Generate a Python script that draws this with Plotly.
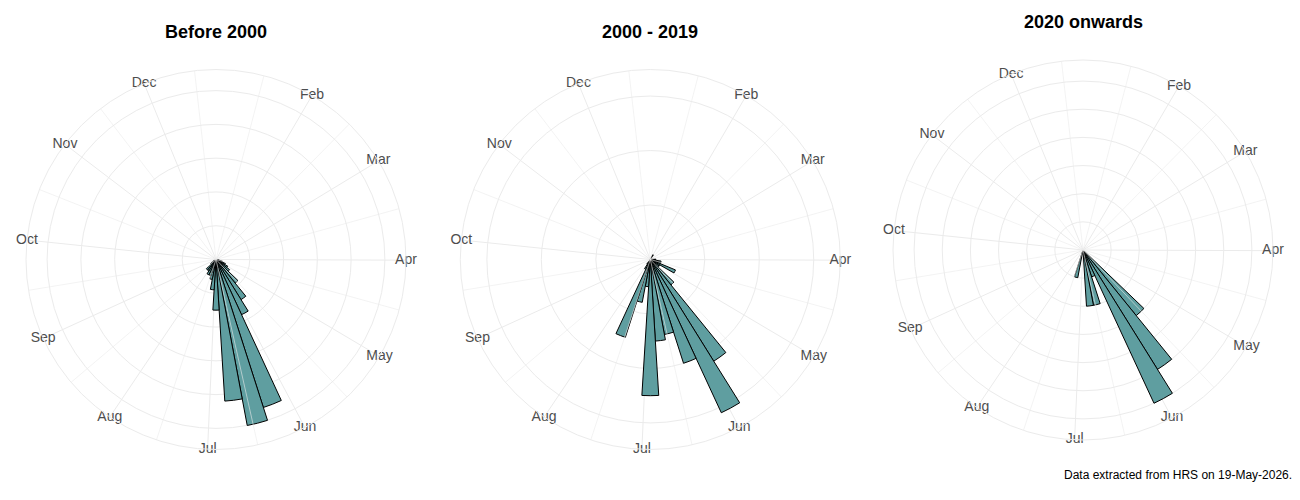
import plotly.graph_objects as go

# ---------------- data ----------------
MONTH_LABELS = ["Jan", "Feb", "Mar", "Apr", "May", "Jun",
                "Jul", "Aug", "Sep", "Oct", "Nov", "Dec"]
MONTH_START_DAY = [0, 31, 59, 90, 120, 151, 181, 212, 243, 273, 304, 334]  # day offset of 1st of month

PANEL_TITLES = ["Before 2000", "2000 - 2019", "2020 onwards"]

# week-of-year bins (7-day bins from 1 Jan) and their heights
weeks_before_2000 = [15, 16, 17, 18, 19, 20, 21, 22, 23, 24, 25, 26, 27, 28, 29, 30, 31, 32, 33, 34]
values_before_2000 = [1, 2, 3, 4, 5, 9, 14, 18, 46, 50, 42, 15, 9, 6, 5, 5, 4, 4, 2, 1]

weeks_2000_2019 = [5, 13, 14, 15, 16, 17, 18, 19, 20, 21, 22, 23, 24, 25, 26, 27, 28, 29, 30, 31]
values_2000_2019 = [1, 1, 1, 2, 2, 5, 2, 2, 6, 22, 31, 20, 14, 15, 25, 5, 8, 15, 2, 1]

weeks_2020_on = [20, 21, 22, 23, 24, 25, 28]
values_2020_on = [3, 5, 6, 1, 2, 2, 1]

RADIAL_STEP = [10, 10, 1]

# ---------------- scale helpers ----------------
AXIS_START_DAY = 1.1
AXIS_SPAN_DAYS = 354.8
BIN_DAYS = 7


def day_to_theta(d):
    return (d - AXIS_START_DAY) * 360.0 / AXIS_SPAN_DAYS


def week_to_theta(w):
    return day_to_theta(BIN_DAYS * (w - 1) + BIN_DAYS / 2.0)


BAR_WIDTH = BIN_DAYS * 360.0 / AXIS_SPAN_DAYS

major_days = [d for d in MONTH_START_DAY if day_to_theta(d) >= 0]
major_labels = [m for m, d in zip(MONTH_LABELS, MONTH_START_DAY) if day_to_theta(d) >= 0]
all_starts = MONTH_START_DAY + [365]
minor_days = [(all_starts[i] + all_starts[i + 1]) / 2.0 for i in range(12)]
minor_days = [d for d in minor_days if 0 <= day_to_theta(d) <= 360]

major_theta = [day_to_theta(d) for d in major_days]
minor_theta = [day_to_theta(d) for d in minor_days]

GRID = "#EBEBEB"
FILL = "#5F9EA0"
FONT = "Liberation Sans, Arial, sans-serif"

panels = [
    (weeks_before_2000, values_before_2000),
    (weeks_2000_2019, values_2000_2019),
    (weeks_2020_on, values_2020_on),
]

# panel placement (pixels): centre x, centre y, outer radius
W, H = 1300, 500
centres = [(216, 259.5), (650.3, 259.5), (1083, 250)]
R_OUT = 190
title_pos = [(216, 32), (650, 32), (1083, 22)]

fig = go.Figure()
layout_polars = {}

for i, ((weeks, vals), step) in enumerate(zip(panels, RADIAL_STEP)):
    pid = "polar" if i == 0 else f"polar{i+1}"
    vmax = max(vals)
    r_outer = vmax * 0.45 / 0.4
    breaks = [step * k for k in range(1, int(vmax // step) + 1)]

    # minor spokes
    rr, tt = [], []
    for t in minor_theta:
        rr += [0, r_outer, None]
        tt += [t, t, None]
    fig.add_trace(go.Scatterpolar(r=rr, theta=tt, mode="lines", subplot=pid,
                                  line=dict(color=GRID, width=0.6),
                                  hoverinfo="skip", showlegend=False, connectgaps=False))

    fig.add_trace(go.Barpolar(r=vals, theta=[week_to_theta(w) for w in weeks],
                              width=[BAR_WIDTH] * len(weeks), subplot=pid,
                              marker=dict(color=FILL, line=dict(color="black", width=1)),
                              showlegend=False))

    fig.add_trace(go.Scatterpolar(r=[r_outer] * len(major_theta), theta=major_theta,
                                  mode="text", text=major_labels, subplot=pid,
                                  textposition="middle center", cliponaxis=False,
                                  textfont=dict(family=FONT, size=14, color="#4D4D4D"),
                                  hoverinfo="skip", showlegend=False))

    cx, cy = centres[i]
    layout_polars[pid] = dict(
        domain=dict(x=[(cx - R_OUT) / W, (cx + R_OUT) / W],
                    y=[(H - cy - R_OUT) / H, (H - cy + R_OUT) / H]),
        bgcolor="white",
        bargap=0,
        angularaxis=dict(direction="clockwise", rotation=90, thetaunit="degrees",
                         tickmode="array", tickvals=major_theta, showticklabels=False,
                         ticks="", showgrid=True, gridcolor=GRID, gridwidth=1,
                         showline=True, linecolor=GRID, linewidth=1),
        radialaxis=dict(range=[0, r_outer], tickmode="array", tickvals=breaks,
                        showticklabels=False, ticks="", showline=False,
                        showgrid=True, gridcolor=GRID, gridwidth=1),
    )

annotations = []
for (tx, ty), title in zip(title_pos, PANEL_TITLES):
    annotations.append(dict(text=f"<b>{title}</b>", x=tx / W, y=1 - ty / H,
                            xref="paper", yref="paper", xanchor="center", yanchor="middle",
                            showarrow=False, font=dict(family=FONT, size=18, color="black")))
annotations.append(dict(text="Data extracted from HRS on 19-May-2026.", x=1294 / W, y=1 - 475 / H,
                        xref="paper", yref="paper", xanchor="right", yanchor="middle",
                        showarrow=False, font=dict(family=FONT, size=12, color="black")))

fig.update_layout(width=W, height=H, margin=dict(l=0, r=0, t=0, b=0),
                  paper_bgcolor="white", plot_bgcolor="white",
                  showlegend=False, annotations=annotations, **layout_polars)

fig.write_html("out.html")
